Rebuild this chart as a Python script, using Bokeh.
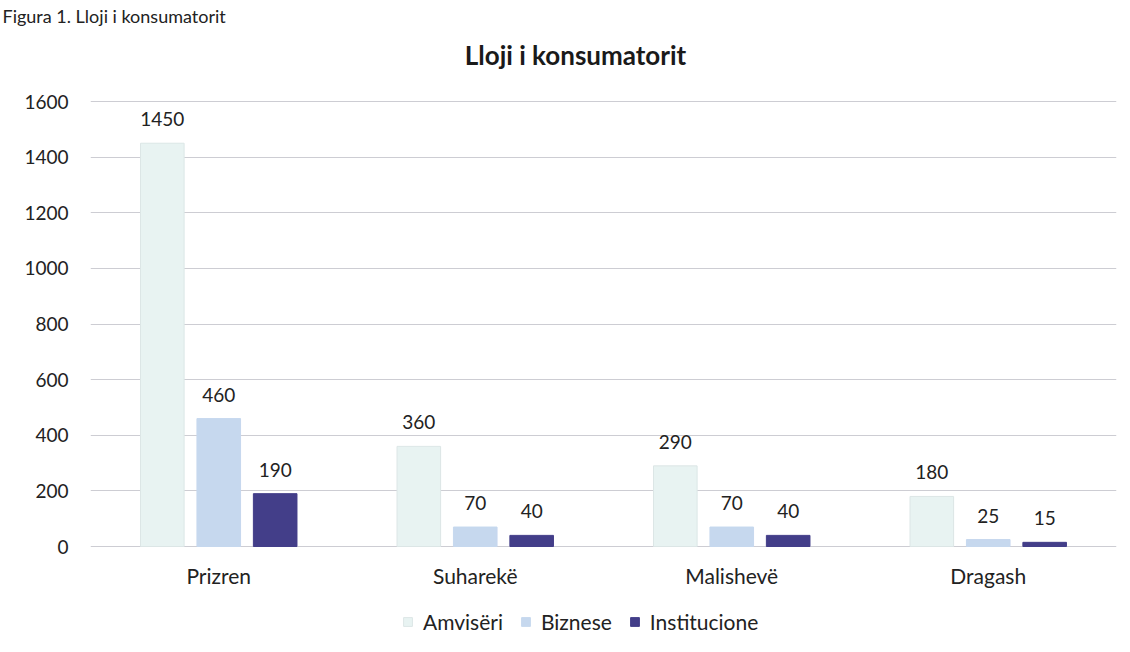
from bokeh.plotting import figure
from bokeh.models import (FactorRange, Range1d, Legend, LegendItem, Label,
                          ColumnDataSource, LabelSet, FixedTicker)
from bokeh.core.properties import value
from bokeh.transform import dodge
from bokeh.embed import file_html
from bokeh.resources import INLINE

categories = ["Prizren", "Suharekë", "Malishevë", "Dragash"]
amviseri = [1450, 360, 290, 180]
biznese = [460, 70, 70, 25]
institucione = [190, 40, 40, 15]
series_names = ["Amvisëri", "Biznese", "Institucione"]
y_ticks = [0, 200, 400, 600, 800, 1000, 1200, 1400, 1600]

colors = ["#e8f3f2", "#c6d8ee", "#433e89"]
FONT = "Lato"
NUM_FS = "19px"
TXT_FS = "21px"

# layout (pixels): frame top, value 1600 line, zero line, figure height
H = 648
FRAME_TOP, TOP, ZERO = 26, 101, 546
ppu = (ZERO - TOP) / 1600.0
y_start = -(H - ZERO) / ppu
y_end = (ZERO - FRAME_TOP) / ppu
title_y = (ZERO - 54) / ppu

src = ColumnDataSource(dict(cat=categories, a=amviseri, b=biznese, c=institucione,
                            a_t=[str(v) for v in amviseri],
                            b_t=[str(v) for v in biznese],
                            c_t=[str(v) for v in institucione],
                            zero=[0] * len(categories)))

p = figure(x_range=FactorRange(*categories, range_padding=0),
           y_range=Range1d(y_start, y_end),
           width=1122, height=H,
           output_backend="svg", toolbar_location=None,
           x_axis_location=None,
           min_border_left=90, min_border_right=6,
           min_border_top=FRAME_TOP, min_border_bottom=0)

# figure caption
p.title.text = "Figura 1. Lloji i konsumatorit"
p.title.align = "left"
p.title.offset = -88
p.title.standoff = 0
p.title.text_font = FONT
p.title.text_font_style = "normal"
p.title.text_font_size = "18px"
p.title.text_color = "#222222"

# chart title
p.add_layout(Label(x=1.8908, y=title_y, text="Lloji i konsumatorit", text_align="center",
                   text_baseline="middle", text_font=FONT, text_font_style="bold",
                   text_font_size="26px", text_color="#1a1a1a"))

p.background_fill_color = "white"
p.border_fill_color = "white"
p.outline_line_color = None

offsets = [-0.22, 0.0, 0.22]
fields = ["a", "b", "c"]
renderers = []
for f, off, col in zip(fields, offsets, colors):
    r = p.vbar(x=dodge("cat", off, range=p.x_range), top=f, width=0.17, source=src,
               fill_color=col, line_color=col if f != "a" else "#dce6e6",
               line_width=1)
    renderers.append(r)
    ls = LabelSet(x=dodge("cat", off, range=p.x_range), y=f, text=f + "_t", source=src,
                  text_align="center", text_baseline="bottom", y_offset=17,
                  text_font=value(FONT), text_font_size=NUM_FS, text_color="#222222")
    p.add_layout(ls)

# category labels under the zero line
p.add_layout(LabelSet(x="cat", y="zero", text="cat", source=src,
                      text_align="center", text_baseline="middle", y_offset=-29,
                      text_font=value(FONT), text_font_size=TXT_FS, text_color="#222222"))

# y axis
p.yaxis.ticker = FixedTicker(ticks=y_ticks)
p.yaxis.axis_line_color = None
p.yaxis.major_tick_line_color = None
p.yaxis.minor_tick_line_color = None
p.yaxis.major_label_text_font = FONT
p.yaxis.major_label_text_font_size = NUM_FS
p.yaxis.major_label_text_color = "#222222"
p.yaxis.major_label_standoff = 16

p.xgrid.grid_line_color = None
p.ygrid.grid_line_color = "#cdcdd3"
p.ygrid.grid_line_width = 1

legend = Legend(items=[LegendItem(label=n, renderers=[r]) for n, r in zip(series_names, renderers)],
                orientation="horizontal", location=(312, 14),
                glyph_width=11, glyph_height=11, label_standoff=10, spacing=17,
                label_text_font=FONT, label_text_font_size=TXT_FS, label_text_color="#222222",
                border_line_color=None, background_fill_alpha=0, padding=0, margin=0)
p.add_layout(legend)

open("out.html", "w").write(file_html(p, INLINE))
